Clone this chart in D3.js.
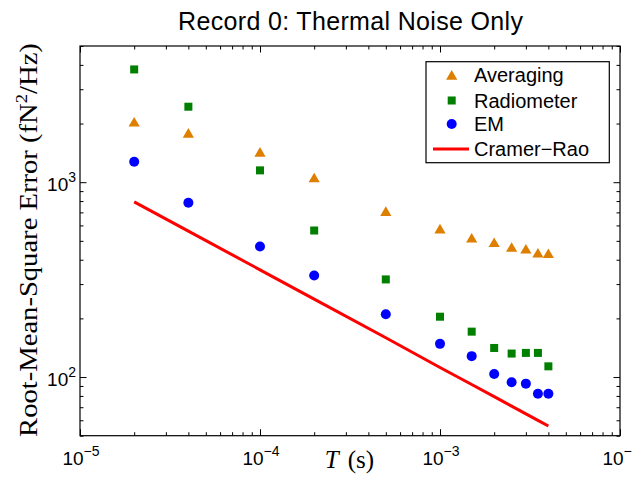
<!DOCTYPE html>
<html>
<head>
<meta charset="utf-8">
<script src="https://cdn.jsdelivr.net/npm/d3@7"></script>
<style>
  html, body { margin: 0; padding: 0; background: #fff; }
  svg { display: block; }
</style>
</head>
<body>
<svg id="chart" width="632" height="481"></svg>
<script>
// ---- data ----
const T = [2e-5, 4e-5, 1e-4, 2e-4, 5e-4, 1e-3, 1.5e-3, 2e-3, 2.5e-3, 3e-3, 3.5e-3, 4e-3];
const averaging  = [2040, 1790, 1430, 1055, 710, 577, 518, 491, 464, 455, 434, 431];
const radiometer = [3790, 2440, 1150, 565, 317, 204, 171, 141, 132, 133, 133, 113.5];
const em         = [1272, 784, 468, 332, 210, 148, 128, 103.6, 94, 92.5, 82, 82];
const cramerRao  = [793, 561, 355, 251, 159, 112, 91.6, 79.3, 70.9, 64.7, 59.9, 56.1];
const seriesNames = ["Averaging", "Radiometer", "EM", "Cramer\u2212Rao"];
const xMajorExp = [-5, -4, -3, -2];
const yMajorExp = [2, 3];
const titleText = "Record 0: Thermal Noise Only";

// ---- layout ----
const svg = d3.select("#chart");
const L = 80, R = 620, TOP = 46, B = 435.7;
const x = d3.scaleLog().domain([1e-5, 1e-2]).range([L, R]);
const y = d3.scaleLog().domain([50, 5000]).range([B, TOP]);

const colors = { avg: "#DF7F00", rad: "#007F00", em: "#0000FF", cr: "#FF0000" };

// ticks
const xMajor = xMajorExp.map(e => Math.pow(10, e));
const xMinor = [];
for (let e = -5; e < -2; e++) for (let k = 2; k <= 9; k++) xMinor.push(k * Math.pow(10, e));
const yMajor = yMajorExp.map(e => Math.pow(10, e));
const yMinor = [];
for (let e = 1; e <= 3; e++) for (let k = 2; k <= 9; k++) {
  const v = k * Math.pow(10, e);
  if (v >= 50 && v <= 5000) yMinor.push(v);
}

function axisGroup(axis, tx, ty) {
  const g = svg.append("g").attr("transform", `translate(${tx},${ty})`).call(axis);
  g.select(".domain").remove();
  g.selectAll(".tick line").attr("stroke", "#000").attr("stroke-width", 1);
  g.selectAll(".tick text").remove();
  return g;
}
const MJ = 6.5, MN = 3.5;
axisGroup(d3.axisBottom(x).tickValues(xMajor).tickSizeInner(-MJ).tickSizeOuter(0), 0, B);
axisGroup(d3.axisBottom(x).tickValues(xMinor).tickSizeInner(-MN).tickSizeOuter(0), 0, B);
axisGroup(d3.axisTop(x).tickValues(xMajor).tickSizeInner(-MJ).tickSizeOuter(0), 0, TOP);
axisGroup(d3.axisTop(x).tickValues(xMinor).tickSizeInner(-MN).tickSizeOuter(0), 0, TOP);
axisGroup(d3.axisLeft(y).tickValues(yMajor).tickSizeInner(-MJ).tickSizeOuter(0), L, 0);
axisGroup(d3.axisLeft(y).tickValues(yMinor).tickSizeInner(-MN).tickSizeOuter(0), L, 0);
axisGroup(d3.axisRight(y).tickValues(yMajor).tickSizeInner(-MJ).tickSizeOuter(0), R, 0);
axisGroup(d3.axisRight(y).tickValues(yMinor).tickSizeInner(-MN).tickSizeOuter(0), R, 0);

// box
svg.append("rect").attr("x", L).attr("y", TOP).attr("width", R - L).attr("height", B - TOP)
  .attr("fill", "none").attr("stroke", "#000").attr("stroke-width", 1.2);

// tick labels
const tickFont = "Liberation Sans, Arial, sans-serif";
xMajorExp.forEach(e => {
  const t = svg.append("text").attr("x", x(Math.pow(10, e)) + 1).attr("y", 465)
    .attr("text-anchor", "middle").attr("font-family", tickFont).attr("font-size", 19).attr("fill", "#000");
  t.append("tspan").text("10");
  t.append("tspan").attr("dy", -9).attr("font-size", 14).text("\u2212" + Math.abs(e));
});
yMajorExp.forEach(e => {
  const t = svg.append("text").attr("x", 76).attr("y", y(Math.pow(10, e)) + 9)
    .attr("text-anchor", "end").attr("font-family", tickFont).attr("font-size", 19).attr("fill", "#000");
  t.append("tspan").text("10");
  t.append("tspan").attr("dy", -9).attr("font-size", 14).text(String(e));
});

// title
svg.append("text").attr("x", 350.5).attr("y", 30).attr("text-anchor", "middle")
  .attr("font-family", tickFont).attr("font-size", 25).attr("fill", "#000")
  .attr("textLength", 345).attr("lengthAdjust", "spacing").text(titleText);

// axis labels
const serif = "Liberation Serif, DejaVu Serif, serif";
const yl = svg.append("text").attr("transform", "translate(37,240) rotate(-90)")
  .attr("text-anchor", "middle").attr("font-family", serif).attr("font-size", 26).attr("fill", "#000");
yl.append("tspan").text("Root-Mean-Square Error (fN");
yl.append("tspan").attr("dy", -10).attr("font-size", 17).text("2");
yl.append("tspan").attr("dy", 10).text("/Hz)");
(function () {
  const bb = yl.node().getBBox();
  const target = 394;
  if (bb.width > 0) {
    const s = target / bb.width;
    yl.attr("transform", `translate(37,240) rotate(-90) scale(${s},1)`);
  }
})();

const xl = svg.append("text").attr("x", 349.5).attr("y", 468).attr("text-anchor", "middle")
  .attr("font-family", serif).attr("font-size", 25).attr("fill", "#000");
xl.append("tspan").attr("font-style", "italic").text("T");
xl.append("tspan").attr("dx", 9).text("(s)");

const plot = svg.append("g");

// Cramer-Rao line
const line = d3.line().x((d, i) => x(T[i])).y(d => y(d));
plot.append("path").datum(cramerRao).attr("d", line)
  .attr("fill", "none").attr("stroke", colors.cr).attr("stroke-width", 3);

// markers
const triPath = "M0,-4.9L5.6,4.7L-5.6,4.7Z";
plot.selectAll(".avg").data(averaging).join("path").attr("class", "avg")
  .attr("d", triPath).attr("transform", (d, i) => `translate(${x(T[i])},${y(d)})`)
  .attr("fill", colors.avg);
plot.selectAll(".rad").data(radiometer).join("rect").attr("class", "rad")
  .attr("x", (d, i) => x(T[i]) - 4).attr("y", d => y(d) - 4)
  .attr("width", 8).attr("height", 8).attr("fill", colors.rad);
plot.selectAll(".em").data(em).join("circle").attr("class", "em")
  .attr("cx", (d, i) => x(T[i])).attr("cy", d => y(d)).attr("r", 5)
  .attr("fill", colors.em);

// legend
const lg = svg.append("g");
lg.append("rect").attr("x", 426).attr("y", 61.7).attr("width", 183.3).attr("height", 101)
  .attr("fill", "#fff").attr("stroke", "#000").attr("stroke-width", 1.2);
const rows = [75, 100.5, 124, 149];
const mx = 451.7, tx = 474;
lg.append("path").attr("d", triPath).attr("transform", `translate(${mx},${rows[0]})`).attr("fill", colors.avg);
lg.append("rect").attr("x", mx - 4).attr("y", rows[1] - 4).attr("width", 8).attr("height", 8).attr("fill", colors.rad);
lg.append("circle").attr("cx", mx).attr("cy", rows[2]).attr("r", 5).attr("fill", colors.em);
lg.append("line").attr("x1", 433).attr("x2", 469).attr("y1", rows[3]).attr("y2", rows[3])
  .attr("stroke", colors.cr).attr("stroke-width", 3);
seriesNames.forEach((n, i) => {
  lg.append("text").attr("x", tx).attr("y", rows[i] + 7).attr("font-family", tickFont)
    .attr("font-size", 20).attr("fill", "#000").text(n);
});
</script>
</body>
</html>
